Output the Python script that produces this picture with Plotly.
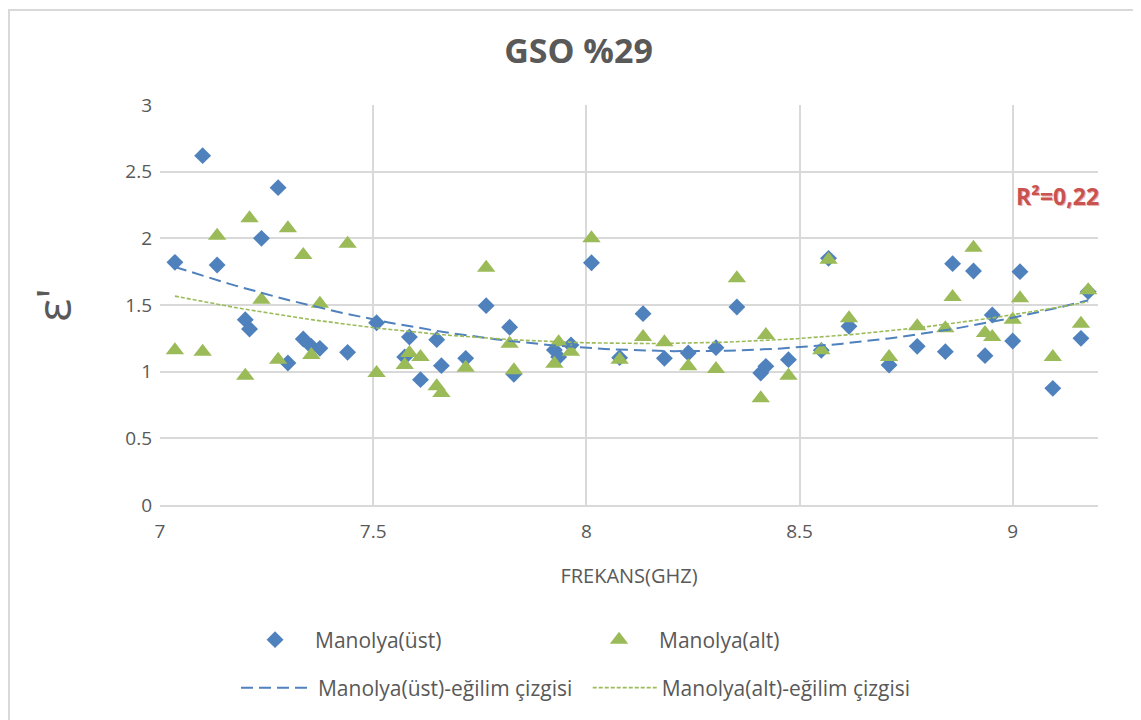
import numpy as np
import plotly.graph_objects as go

# frequency (GHz) and permittivity readings
frekans = [7.035, 7.10, 7.134, 7.20, 7.21, 7.238, 7.277, 7.30, 7.336, 7.355,
           7.375, 7.44, 7.508, 7.574, 7.585, 7.611, 7.649, 7.66, 7.717, 7.765,
           7.82, 7.83, 7.925, 7.935, 7.964, 8.012, 8.078, 8.133, 8.183, 8.239,
           8.304, 8.353, 8.409, 8.421, 8.474, 8.551, 8.568, 8.616, 8.71, 8.776,
           8.842, 8.859, 8.908, 8.935, 8.952, 9.0, 9.017, 9.094, 9.16, 9.177]

ust = [1.82, 2.62, 1.80, 1.39, 1.32, 2.00, 2.38, 1.065, 1.245, 1.19,
       1.175, 1.145, 1.367, 1.11, 1.26, 0.94, 1.24, 1.045, 1.10, 1.495,
       1.333, 0.98, 1.163, 1.11, 1.20, 1.817, 1.105, 1.435, 1.10, 1.14,
       1.18, 1.485, 0.99, 1.04, 1.09, 1.16, 1.85, 1.34, 1.05, 1.19,
       1.15, 1.81, 1.755, 1.12, 1.425, 1.23, 1.75, 0.875, 1.25, 1.60]

alt = [1.16, 1.15, 2.02, 0.97, 2.15, 1.54, 1.09, 2.075, 1.875, 1.125,
       1.51, 1.96, 0.99, 1.05, 1.14, 1.11, 0.89, 0.84, 1.03, 1.78,
       1.21, 1.01, 1.06, 1.22, 1.15, 2.00, 1.09, 1.26, 1.22, 1.04,
       1.02, 1.70, 0.80, 1.275, 0.97, 1.16, 1.84, 1.40, 1.11, 1.34,
       1.325, 1.56, 1.93, 1.29, 1.26, 1.39, 1.55, 1.11, 1.36, 1.61]

BLUE = '#4f81bd'
GREEN = '#9bbb59'
GREY = '#595959'
FONT = 'Open Sans'

# second order trendlines, like excel does
xs = np.linspace(min(frekans), max(frekans), 120)
fit_ust = np.polyval(np.polyfit(frekans, ust, 2), xs)
fit_alt = np.polyval(np.polyfit(frekans, alt, 2), xs)

fig = go.Figure()
fig.add_trace(go.Scatter(
    x=frekans, y=ust, mode='markers', name='Manolya(üst)',
    marker=dict(symbol='diamond', size=13, color=BLUE),
    legend='legend'))
fig.add_trace(go.Scatter(
    x=frekans, y=alt, mode='markers', name='Manolya(alt)',
    marker=dict(symbol='triangle-up', size=16, color=GREEN),
    legend='legend'))
fig.add_trace(go.Scatter(
    x=xs, y=fit_ust, mode='lines', name='Manolya(üst)-eğilim çizgisi',
    line=dict(color=BLUE, width=2, dash='12px,6px'),
    legend='legend2'))
fig.add_trace(go.Scatter(
    x=xs, y=fit_alt, mode='lines', name='Manolya(alt)-eğilim çizgisi',
    line=dict(color=GREEN, width=1.6, dash='4px,2px'),
    legend='legend3'))

fig.add_annotation(
    text='<b>R²=0,22</b>', xref='paper', yref='paper', x=0.957, y=0.7725,
    showarrow=False, xanchor='center', yanchor='middle',
    font=dict(family=FONT, size=23, color='#c9534f', shadow='1px 1px 0 #e8b4b2'))

# outer chart frame (page is offset by the 8px body margin)
fig.add_shape(type='rect', xref='paper', yref='paper',
              x0=-0.161, x1=1.0437, y0=-0.7, y1=1.2375,
              line=dict(color='#d9d9d9', width=2), layer='below')

leg = dict(orientation='h', xanchor='left', yanchor='middle',
           font=dict(size=21, color=GREY), bgcolor='rgba(0,0,0,0)')

fig.update_layout(
    width=1141, height=720,
    margin=dict(l=152, r=51, t=97, b=223),
    paper_bgcolor='white', plot_bgcolor='white',
    font=dict(family=FONT, color=GREY),
    title=dict(text='<b>GSO %29</b>', x=0.5, xanchor='center', y=0.94,
               yanchor='middle', font=dict(size=34, color=GREY)),
    legend=dict(leg, x=0.08, y=-0.3375, itemwidth=70, entrywidth=259,
                entrywidthmode='pixels'),
    legend2=dict(leg, x=0.081, y=-0.4575, itemwidth=72),
    legend3=dict(leg, x=0.456, y=-0.4575, itemwidth=64),
)
fig.update_xaxes(
    range=[7, 9.2], dtick=0.5, tick0=7, showgrid=True, gridcolor='#d9d9d9',
    gridwidth=1.5, zeroline=False, showline=True, linecolor='#d9d9d9',
    linewidth=1.5, ticks='', ticklabelstandoff=8,
    tickfont=dict(size=19, color=GREY),
    title=dict(text='FREKANS(GHZ)', font=dict(size=20, color=GREY), standoff=26))
fig.update_yaxes(
    range=[0, 3], dtick=0.5, showgrid=True, gridcolor='#d9d9d9',
    gridwidth=1.5, zeroline=False, showline=False, ticks='',
    ticklabelstandoff=7, tickfont=dict(size=19, color=GREY),
    title=dict(text="ε'", font=dict(size=48, color=GREY), standoff=38))

fig.write_html("out.html")
